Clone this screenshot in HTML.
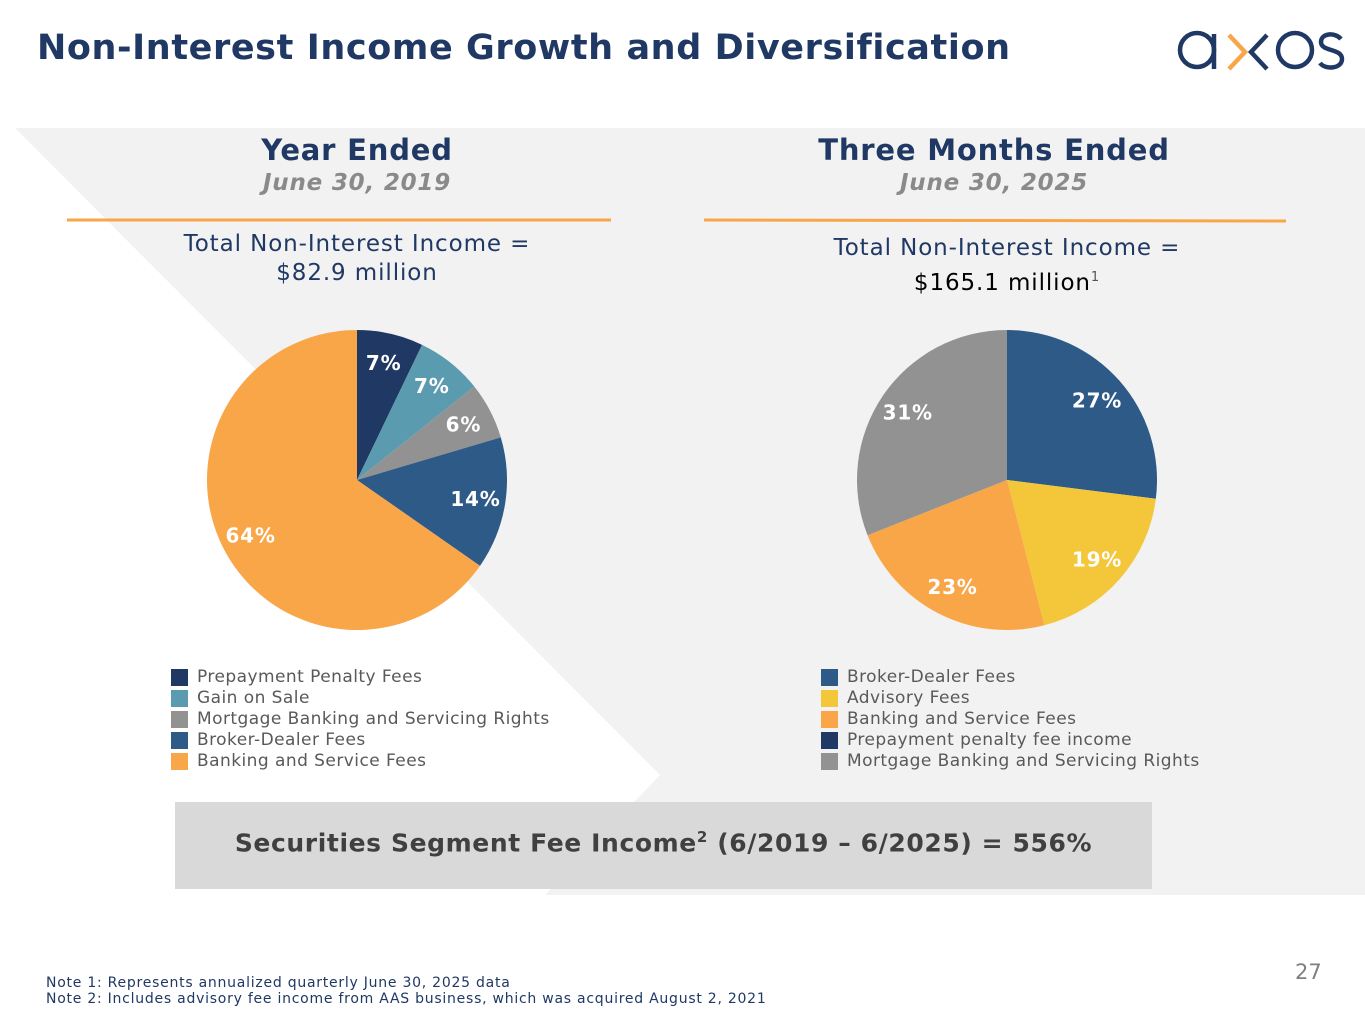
<!DOCTYPE html>
<html><head><meta charset="utf-8">
<style>
body{margin:0;width:1365px;height:1024px;overflow:hidden;background:#fff;font-family:"DejaVu Sans","Liberation Sans",sans-serif;position:relative}
.abs{position:absolute}
.title{left:37px;top:28px;font-size:35px;font-weight:bold;color:#1f3864;letter-spacing:0.6px}
.hd{font-size:29px;font-weight:bold;color:#1f3864;text-align:center;letter-spacing:0.8px}
.sub{font-size:23px;font-weight:bold;font-style:italic;color:#8a8a8a;text-align:center;letter-spacing:0.8px}
.tot{font-size:23px;color:#1f3864;text-align:center;line-height:29px;letter-spacing:0.9px}
.leg{font-size:17px;color:#595959;line-height:21px;letter-spacing:0.45px}
.leg div{display:flex;align-items:center}
.leg span.sw{width:17px;height:17px;display:inline-block;margin-right:9px}
</style></head><body>
<svg class="abs" style="left:0;top:0" width="1365" height="1024">
<rect x="0" y="128" width="1365" height="767" fill="#f2f2f2"/>
<polygon points="0,128 15,128 660,775 545,895 0,895" fill="#fff"/>
<line x1="67" y1="220" x2="611" y2="220" stroke="#f9a648" stroke-width="3"/>
<line x1="704" y1="220" x2="1286" y2="221" stroke="#f9a648" stroke-width="3"/>
<rect x="175" y="802" width="977" height="87" fill="#d9d9d9"/>
<g id="pies"></g>
</svg>
<div class="abs title">Non-Interest Income Growth and Diversification</div>
<svg class="abs" style="left:1175px;top:28px" width="175" height="45">
<circle cx="22" cy="22" r="17" fill="none" stroke="#1f3864" stroke-width="4.5"/>
<line x1="39" y1="6" x2="39" y2="41" stroke="#1f3864" stroke-width="4.5"/>
<polyline points="54,7 70,24 54,41" fill="none" stroke="#f9a648" stroke-width="4.5"/>
<polyline points="92,7 76,24 92,41" fill="none" stroke="#1f3864" stroke-width="4.5"/>
<circle cx="120" cy="22" r="17" fill="none" stroke="#1f3864" stroke-width="4.5"/>
<path d="M166,11 C160,4 146,5 146,14 C146,24 167,20 167,31 C167,41 150,42 145,35" fill="none" stroke="#1f3864" stroke-width="4.5"/>
</svg>
<div class="abs hd" style="left:57px;width:600px;top:133px">Year Ended</div>
<div class="abs sub" style="left:57px;width:600px;top:170px">June 30, 2019</div>
<div class="abs tot" style="left:57px;width:600px;top:230px">Total Non-Interest Income =<br>$82.9 million</div>
<div class="abs hd" style="left:694px;width:600px;top:133px">Three Months Ended</div>
<div class="abs sub" style="left:694px;width:600px;top:170px">June 30, 2025</div>
<div class="abs tot" style="left:707px;width:600px;top:234px">Total Non-Interest Income =<br><span style="color:#000">$165.1 million<span style="font-size:13px;color:#555;vertical-align:9px">1</span></span></div>
<div class="abs leg" style="left:171px;top:667px">
<div><span class="sw" style="background:#1f3864"></span>Prepayment Penalty Fees</div>
<div><span class="sw" style="background:#5b9bb0"></span>Gain on Sale</div>
<div><span class="sw" style="background:#929292"></span>Mortgage Banking and Servicing Rights</div>
<div><span class="sw" style="background:#2e5a87"></span>Broker-Dealer Fees</div>
<div><span class="sw" style="background:#f9a648"></span>Banking and Service Fees</div>
</div>
<div class="abs leg" style="left:821px;top:667px">
<div><span class="sw" style="background:#2e5a87"></span>Broker-Dealer Fees</div>
<div><span class="sw" style="background:#f4c63a"></span>Advisory Fees</div>
<div><span class="sw" style="background:#f9a648"></span>Banking and Service Fees</div>
<div><span class="sw" style="background:#1f3864"></span>Prepayment penalty fee income</div>
<div><span class="sw" style="background:#929292"></span>Mortgage Banking and Servicing Rights</div>
</div>
<div class="abs" style="left:175px;width:977px;top:828px;text-align:center;font-size:25px;font-weight:bold;color:#404040;letter-spacing:0.6px">Securities Segment Fee Income<sup style="font-size:15px">2</sup> (6/2019 – 6/2025) = 556%</div>
<div class="abs" style="left:46px;top:975px;font-size:14px;color:#1f3864;line-height:16px;letter-spacing:0.75px">Note 1: Represents annualized quarterly June 30, 2025 data<br>Note 2: Includes advisory fee income from AAS business, which was acquired August 2, 2021</div>
<div class="abs" style="left:1295px;top:960px;font-size:21px;color:#7f7f7f">27</div>
<script>
const leftCategories=["Prepayment Penalty Fees","Gain on Sale","Mortgage Banking and Servicing Rights","Broker-Dealer Fees","Banking and Service Fees"];
const leftValues=[7,7,6,14,64];
const leftColors=["#1f3864","#5b9bb0","#929292","#2e5a87","#f9a648"];
const rightCategories=["Broker-Dealer Fees","Advisory Fees","Banking and Service Fees","Prepayment penalty fee income","Mortgage Banking and Servicing Rights"];
const rightValues=[27,19,23,0,31];
const rightColors=["#2e5a87","#f4c63a","#f9a648","#1f3864","#929292"];
const NS="http://www.w3.org/2000/svg";
function drawPie(cx,cy,r,vals,cols,name){
  const g=document.getElementById('pies');
  const tot=vals.reduce((a,b)=>a+b,0);
  let a0=0;
  vals.forEach((v,i)=>{
    if(v<=0)return;
    const a1=a0+v/tot*2*Math.PI;
    const x0=cx+r*Math.sin(a0),y0=cy-r*Math.cos(a0),x1=cx+r*Math.sin(a1),y1=cy-r*Math.cos(a1);
    const p=document.createElementNS(NS,'path');
    p.setAttribute('d',`M${cx},${cy}L${x0},${y0}A${r},${r} 0 ${a1-a0>Math.PI?1:0} 1 ${x1},${y1}Z`);
    p.setAttribute('fill',cols[i]);
    
    
    g.appendChild(p);
    const am=(a0+a1)/2,lr=r*0.8;
    const t=document.createElementNS(NS,'text');
    t.setAttribute('x',cx+lr*Math.sin(am));t.setAttribute('y',cy-lr*Math.cos(am)+7);
    t.setAttribute('text-anchor','middle');t.setAttribute('fill','#fff');
    t.setAttribute('font-size','20');t.setAttribute('font-weight','bold');
    t.setAttribute('letter-spacing','0.8');
    t.setAttribute('font-family','DejaVu Sans, sans-serif');
    t.textContent=v+'%';
    
    
    g.appendChild(t);
    a0=a1;
  });
}
drawPie(357,480,150,leftValues,leftColors,'left-pie');
drawPie(1007,480,150,rightValues,rightColors,'right-pie');
</script>
</body></html>
